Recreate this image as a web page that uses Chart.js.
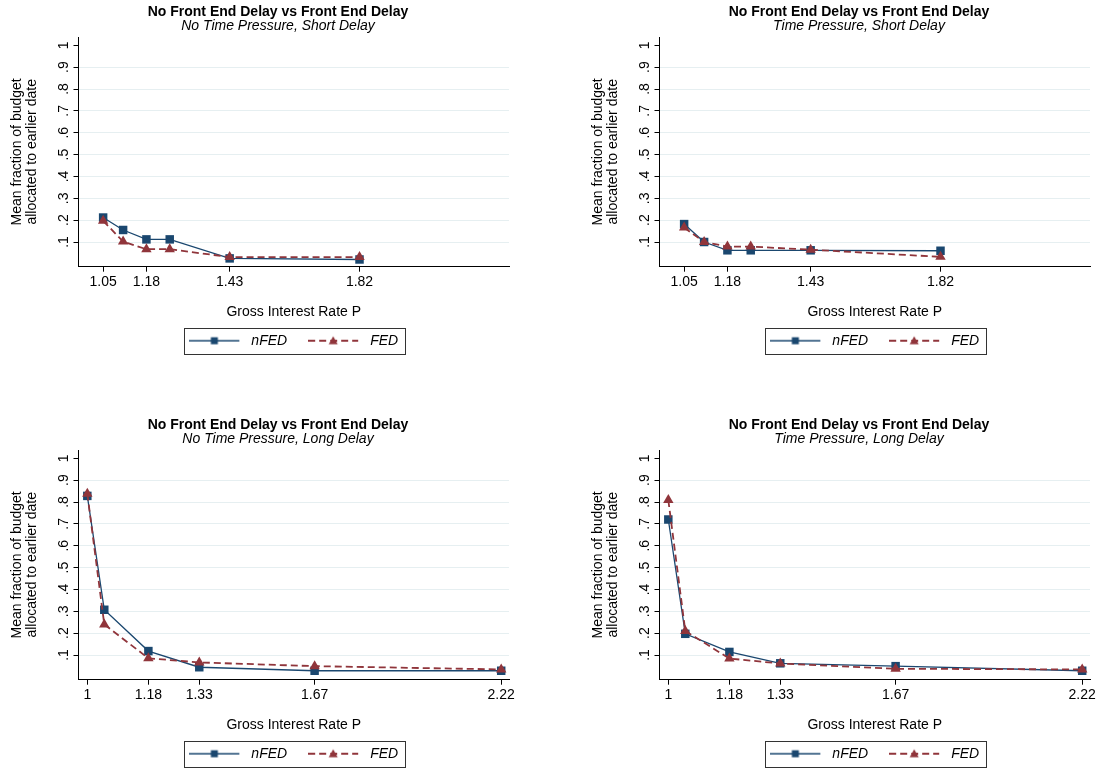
<!DOCTYPE html>
<html>
<head>
<meta charset="utf-8">
<script src="https://cdn.jsdelivr.net/npm/chart.js@4.4.1/dist/chart.umd.min.js"></script>
<style>
html, body { margin: 0; padding: 0; background: #fff; overflow: hidden; width: 1100px; height: 771px; }
canvas { position: absolute; }
</style>
</head>
<body>
<canvas id="p1" style="left:0px;top:0px"></canvas>
<canvas id="p2" style="left:581px;top:0px"></canvas>
<canvas id="p3" style="left:0px;top:413px"></canvas>
<canvas id="p4" style="left:581px;top:413px"></canvas>
<script>
// gross interest rates
const shortRates = [1.05, 1.11, 1.18, 1.25, 1.43, 1.82];
const shortTicks = [1.05, 1.18, 1.43, 1.82];
const longRates = [1, 1.05, 1.18, 1.33, 1.67, 2.22];
const longTicks = [1, 1.18, 1.33, 1.67, 2.22];
const yTicks = [0.1, 0.2, 0.3, 0.4, 0.5, 0.6, 0.7, 0.8, 0.9, 1];

// mean fraction of budget allocated to earlier date
const nfedNoTPShort = [0.212, 0.155, 0.112, 0.112, 0.025, 0.020];
const fedNoTPShort  = [0.197, 0.102, 0.067, 0.067, 0.031, 0.031];
const nfedTPShort   = [0.182, 0.100, 0.062, 0.062, 0.062, 0.060];
const fedTPShort    = [0.166, 0.100, 0.079, 0.079, 0.065, 0.032];
const nfedNoTPLong  = [0.828, 0.307, 0.118, 0.044, 0.028, 0.028];
const fedNoTPLong   = [0.838, 0.240, 0.085, 0.066, 0.049, 0.034];
const nfedTPLong    = [0.720, 0.197, 0.114, 0.062, 0.049, 0.028];
const fedTPLong     = [0.809, 0.210, 0.084, 0.061, 0.037, 0.034];

const mainTitle = 'No Front End Delay vs Front End Delay';
const subTitles = ['No Time Pressure, Short Delay', 'Time Pressure, Short Delay',
                   'No Time Pressure, Long Delay', 'Time Pressure, Long Delay'];
const seriesNames = ['nFED', 'FED'];

const NAVY = '#1a476f';
const MAROON = '#90353b';
const FONT = '"Liberation Sans", Arial, Helvetica, sans-serif';
Chart.defaults.font.family = FONT;
Chart.defaults.color = '#000';

// legend symbols: line with marker in the middle
function legendSymbol(color, dashed, marker) {
    const c = document.createElement('canvas');
    c.width = 55; c.height = 14;
    const g = c.getContext('2d');
    g.strokeStyle = color;
    g.fillStyle = color;
    g.lineWidth = dashed ? 1.8 : 1.3;
    if (dashed) g.setLineDash([7, 4]);
    g.beginPath(); g.moveTo(0, 7); g.lineTo(50, 7); g.stroke();
    g.setLineDash([]);
    if (marker === 'rect') {
        g.fillRect(21.5, 3.5, 7, 7);
    } else {
        g.beginPath(); g.moveTo(25, 2.5); g.lineTo(29.5, 10.5); g.lineTo(20.5, 10.5); g.closePath(); g.fill();
    }
    return c;
}
const legendImgs = [legendSymbol(NAVY, false, 'rect'), legendSymbol(MAROON, true, 'triangle')];

// box around the legend
const legendFrame = {
    id: 'legendFrame',
    afterDraw(chart) {
        const hb = chart.legend.legendHitBoxes;
        if (!hb || !hb.length) return;
        const last = hb[hb.length - 1];
        const left = hb[0].left - 5;
        const right = last.left + last.width + 7;
        const cy = hb[0].top + hb[0].height / 2;
        const ctx = chart.ctx;
        ctx.save();
        ctx.strokeStyle = '#333';
        ctx.lineWidth = 1;
        ctx.strokeRect(Math.round(left) + 0.5, Math.round(cy - 13) + 0.5, Math.round(right - left), 26);
        ctx.restore();
    }
};

function makePanel(id, sub, rates, ticks, nfed, fed, xMin, xMax) {
    const cv = document.getElementById(id);
    cv.width = 556; cv.height = 362;
    return new Chart(cv, {
        type: 'line',
        data: {
            datasets: [{
                label: seriesNames[0],
                data: rates.map((x, i) => ({x: x, y: nfed[i]})),
                borderColor: NAVY,
                borderWidth: 1.3,
                pointStyle: 'rect',
                pointRadius: 6,
                pointBackgroundColor: NAVY,
                pointBorderWidth: 0,
                order: 1,
                clip: false
            }, {
                label: seriesNames[1],
                data: rates.map((x, i) => ({x: x, y: fed[i]})),
                borderColor: MAROON,
                borderWidth: 1.8,
                borderDash: [7, 4],
                pointStyle: 'triangle',
                pointRadius: 6,
                pointBackgroundColor: MAROON,
                pointBorderWidth: 0,
                order: 0,
                clip: false
            }]
        },
        options: {
            responsive: false,
            animation: false,
            layout: { padding: { top: 5, left: 0, right: 0, bottom: 4.3 } },
            plugins: {
                tooltip: { enabled: false },
                title: {
                    display: true, text: mainTitle, color: '#000',
                    font: { size: 14, weight: 'bold', lineHeight: 1.0 },
                    padding: { top: 0, bottom: 0 }
                },
                subtitle: {
                    display: true, text: sub, color: '#000',
                    font: { size: 14, style: 'italic', lineHeight: 1.0 },
                    padding: { top: 0, bottom: 4 }
                },
                legend: {
                    position: 'bottom',
                    fullSize: false,
                    labels: {
                        usePointStyle: true,
                        pointStyleWidth: 55,
                        padding: 21,
                        color: '#000',
                        font: { size: 14, style: 'italic' },
                        sort: (a, b) => a.datasetIndex - b.datasetIndex,
                        generateLabels(chart) {
                            const items = Chart.defaults.plugins.legend.labels.generateLabels(chart);
                            items.forEach(it => { it.pointStyle = legendImgs[it.datasetIndex]; });
                            return items;
                        }
                    }
                }
            },
            scales: {
                x: {
                    type: 'linear',
                    min: xMin, max: xMax,
                    afterBuildTicks: s => { s.ticks = ticks.map(v => ({value: v})); },
                    afterFit: s => { s.height = 46; },
                    grid: { drawOnChartArea: false, drawTicks: true, tickLength: 5, tickColor: '#000' },
                    border: { display: true, color: '#000', width: 1 },
                    ticks: {
                        autoSkip: false, maxRotation: 0, padding: 2.5,
                        font: { size: 14 }, color: '#000',
                        callback: v => String(v)
                    },
                    title: {
                        display: true, text: 'Gross Interest Rate P', color: '#000',
                        font: { size: 14, lineHeight: 1.1 }, padding: { top: 0, bottom: -6.7 }
                    }
                },
                y: {
                    type: 'linear',
                    position: 'left',
                    min: -0.013, max: 1.038,
                    afterBuildTicks: s => { s.ticks = yTicks.map(v => ({value: v})); },
                    afterFit: s => { s.width = 78.5; },
                    grid: {
                        color: ctx => (ctx.tick && ctx.tick.value >= 1) ? 'rgba(0,0,0,0)' : '#e6eff1',
                        lineWidth: 1,
                        drawTicks: true, tickLength: 5, tickColor: '#000'
                    },
                    border: { display: true, color: '#000', width: 1 },
                    ticks: {
                        minRotation: 90, maxRotation: 90, crossAlign: 'center', padding: 3.6,
                        font: { size: 14 }, color: '#000',
                        callback: v => v >= 1 ? '1' : v.toFixed(1).replace(/^0/, '')
                    },
                    title: {
                        display: true,
                        text: ['Mean fraction of budget', 'allocated to earlier date'],
                        color: '#000',
                        font: { size: 14, lineHeight: 1.1 }, padding: { top: 9.3, bottom: 0 }
                    }
                },
                yR: {
                    type: 'linear',
                    position: 'right',
                    display: true,
                    afterFit: s => { s.width = 47; },
                    grid: { display: false },
                    border: { display: false },
                    ticks: { display: false }
                }
            }
        },
        plugins: [legendFrame]
    });
}

makePanel('p1', subTitles[0], shortRates, shortTicks, nfedNoTPShort, fedNoTPShort, 0.976, 2.269);
makePanel('p2', subTitles[1], shortRates, shortTicks, nfedTPShort, fedTPShort, 0.976, 2.269);
makePanel('p3', subTitles[2], longRates, longTicks, nfedNoTPLong, fedNoTPLong, 0.974, 2.243);
makePanel('p4', subTitles[3], longRates, longTicks, nfedTPLong, fedTPLong, 0.974, 2.243);
</script>
</body>
</html>
